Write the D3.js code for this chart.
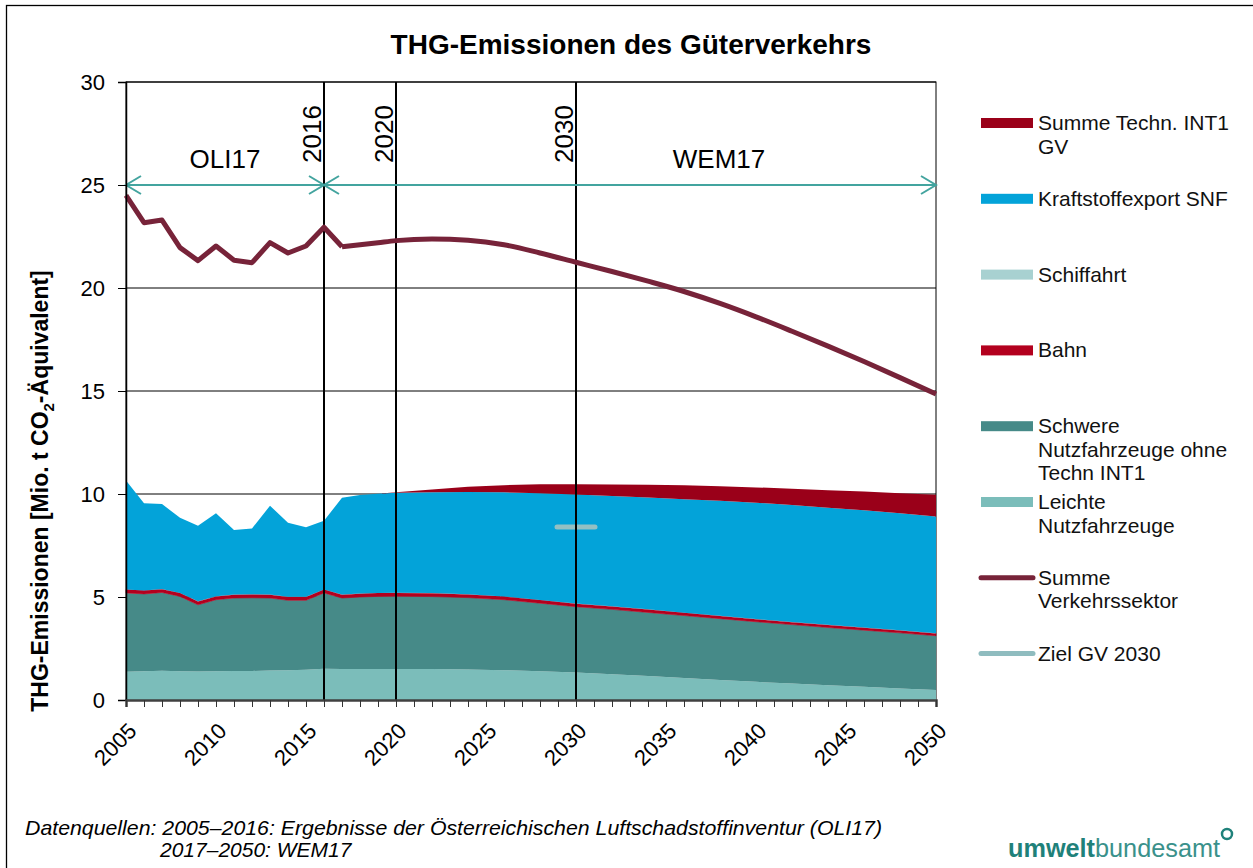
<!DOCTYPE html>
<html>
<head>
<meta charset="utf-8">
<script src="https://cdn.jsdelivr.net/npm/d3@7"></script>
<style>
  body{margin:0;background:#fff;font-family:Arial,"Liberation Sans",sans-serif;}
  svg text{font-family:Arial,"Liberation Sans",sans-serif;}
</style>
</head>
<body>
<main></main>
<script>
// data (Mio. t CO2-Äquivalent)
const years=[2005,2006,2007,2008,2009,2010,2011,2012,2013,2014,2015,2016,2017,2018,2019,2020,
             2022,2024,2026,2028,2030,2032,2034,2036,2038,2040,2042,2044,2046,2048,2050]
const leichte=[1.37,1.39,1.42,1.40,1.38,1.40,1.41,1.41,1.43,1.45,1.47,1.52,1.50,1.50,1.50,1.50,
               1.50,1.48,1.45,1.40,1.33,1.25,1.16,1.07,0.97,0.88,0.80,0.72,0.64,0.56,0.49]
const schwere=[3.83,3.76,3.80,3.63,3.24,3.47,3.54,3.55,3.52,3.39,3.37,3.68,3.45,3.50,3.53,3.54,
               3.52,3.49,3.42,3.30,3.20,3.15,3.09,3.03,2.98,2.92,2.86,2.80,2.75,2.70,2.63]
const bahn=[0.16,0.16,0.16,0.16,0.16,0.16,0.16,0.16,0.16,0.16,0.16,0.16,0.16,0.16,0.16,0.16,
            0.16,0.15,0.15,0.15,0.14,0.14,0.14,0.13,0.13,0.12,0.12,0.12,0.12,0.11,0.11]
const schiffahrt=[0.01,0.01,0.01,0.01,0.01,0.01,0.01,0.01,0.01,0.01,0.01,0.01,0.01,0.01,0.01,0.01,
                  0.01,0.01,0.01,0.01,0.01,0.01,0.01,0.01,0.01,0.01,0.01,0.01,0.01,0.01,0.01]
const kraftstoff=[5.28,4.23,4.12,3.65,3.67,4.02,3.13,3.20,4.31,3.60,3.37,3.33,4.70,4.78,4.81,4.85,
                  4.90,4.97,5.05,5.18,5.29,5.35,5.43,5.51,5.58,5.65,5.68,5.68,5.69,5.68,5.67]
const int1=[0,0,0,0,0,0,0,0,0,0,0,0,0,0,0,0.03,
            0.13,0.25,0.35,0.43,0.50,0.56,0.62,0.67,0.71,0.74,0.79,0.85,0.91,0.98,1.05]
const summeVerkehr=[24.5,23.17,23.3,21.96,21.33,22.04,21.35,21.23,22.2,21.7,22.04,22.95,22.0,22.1,22.2,22.3,
                    22.38,22.32,22.1,21.7,21.25,20.8,20.33,19.83,19.25,18.6,17.9,17.18,16.43,15.65,14.85]
const zielYear=2030
const zielValue=8.4
const yTicks=[0,5,10,15,20,25,30]
const xLabelYears=[2005,2010,2015,2020,2025,2030,2035,2040,2045,2050]
const markerYears=[2016,2020,2030]

const series=[
  {key:"leichte",name:["Leichte","Nutzfahrzeuge"],color:"#7bbdba",values:leichte},
  {key:"schwere",name:["Schwere","Nutzfahrzeuge ohne","Techn INT1"],color:"#468a88",values:schwere},
  {key:"bahn",name:["Bahn"],color:"#b3001e",values:bahn},
  {key:"schiffahrt",name:["Schiffahrt"],color:"#a8d1d1",values:schiffahrt},
  {key:"kraftstoff",name:["Kraftstoffexport SNF"],color:"#03a3d9",values:kraftstoff},
  {key:"int1",name:["Summe Techn. INT1","GV"],color:"#9a0019",values:int1}
]

const w=1253, h=868
const pLeft=126, pRight=936, pTop=82, pBottom=700

const svg=d3.select("main").append("svg").attr("width",w).attr("height",h)

// outer frame
svg.append("rect").attr("x",6.5).attr("y",5.5).attr("width",1400).attr("height",1000)
   .attr("fill","none").attr("stroke","#000").attr("stroke-width",1.3)

const x=d3.scaleLinear().domain([2005,2050]).range([pLeft,pRight])
const y=d3.scaleLinear().domain([0,30]).range([pBottom,pTop])

// title
svg.append("text").attr("x",631).attr("y",54).attr("text-anchor","middle")
   .attr("font-size",28).attr("font-weight","bold").text("THG-Emissionen des Güterverkehrs")

// plot frame + grid
svg.append("rect").attr("x",pLeft).attr("y",pTop).attr("width",pRight-pLeft).attr("height",pBottom-pTop)
   .attr("fill","none").attr("stroke","#000").attr("stroke-width",1)
svg.append("g").selectAll("line").data(yTicks.filter(d=>d>0)).enter().append("line")
   .attr("x1",pLeft).attr("x2",pRight).attr("y1",d=>y(d)).attr("y2",d=>y(d))
   .attr("stroke","#000").attr("stroke-width",1)

// stacked areas
const rows=years.map((yr,i)=>{
  const r={year:yr}
  series.forEach(s=>r[s.key]=s.values[i])
  return r
})
const stack=d3.stack().keys(series.map(s=>s.key))
const layers=stack(rows)
const area=d3.area().x(d=>x(d.data.year)).y0(d=>y(d[0])).y1(d=>y(d[1]))
svg.append("g").selectAll("path").data(layers).enter().append("path")
   .attr("d",area).attr("fill",(d,i)=>series[i].color)
   .attr("stroke",(d,i)=>series[i].key=="bahn"?series[i].color:"none").attr("stroke-width",0.6)

// ziel marker
svg.append("line").attr("x1",x(zielYear)-19).attr("x2",x(zielYear)+19)
   .attr("y1",y(zielValue)).attr("y2",y(zielValue))
   .attr("stroke","#93c0c3").attr("stroke-width",5).attr("stroke-linecap","round")

// vertical marker lines
svg.append("g").selectAll("line").data(markerYears).enter().append("line")
   .attr("x1",d=>x(d)).attr("x2",d=>x(d)).attr("y1",pTop).attr("y2",pBottom)
   .attr("stroke","#000").attr("stroke-width",2)
svg.append("g").selectAll("text").data(markerYears).enter().append("text")
   .attr("transform",d=>"translate("+(x(d)-3)+",134) rotate(-90)")
   .attr("text-anchor","middle").attr("font-size",26).text(d=>d)

// period arrows
const arrowColor="#43a49f"
const ay=y(25)
function arrow(a,b){
  const g=svg.append("g").attr("stroke",arrowColor).attr("stroke-width",2).attr("fill","none")
  g.append("line").attr("x1",x(a)).attr("x2",x(b)).attr("y1",ay).attr("y2",ay)
  g.append("path").attr("d","M"+(x(a)+15)+","+(ay-9)+"L"+x(a)+","+ay+"L"+(x(a)+15)+","+(ay+9))
  g.append("path").attr("d","M"+(x(b)-15)+","+(ay-9)+"L"+x(b)+","+ay+"L"+(x(b)-15)+","+(ay+9))
}
arrow(2005,2016)
arrow(2016,2050)
svg.append("text").attr("x",(x(2005)+x(2016))/2).attr("y",168).attr("text-anchor","middle")
   .attr("font-size",26).text("OLI17")
svg.append("text").attr("x",719).attr("y",168).attr("text-anchor","middle")
   .attr("font-size",26).text("WEM17")

// summe verkehrssektor line: inventory years straight, projection smooth
const pts=summeVerkehr.map((v,i)=>[years[i],v])
const cut=years.indexOf(2017)
const lineLin=d3.line().x(d=>x(d[0])).y(d=>y(d[1]))
const lineSmooth=d3.line().x(d=>x(d[0])).y(d=>y(d[1])).curve(d3.curveMonotoneX)
const vLine=svg.append("g").attr("fill","none").attr("stroke","#772339").attr("stroke-width",5)
   .attr("stroke-linejoin","round")
vLine.append("path").attr("d",lineLin(pts.slice(0,cut+1)))
vLine.append("path").attr("d",lineSmooth(pts.slice(cut)))

// axes
const yAxis=d3.axisLeft(y).tickValues(yTicks).tickSize(8).tickPadding(13)
const gy=svg.append("g").attr("transform","translate("+pLeft+",0)").call(yAxis)
gy.select(".domain").attr("stroke","#000").attr("stroke-width",1.5)
gy.selectAll("text").attr("font-size",22).attr("fill","#000")

const minor=d3.axisBottom(x).tickValues(d3.range(2005,2051)).tickSize(7).tickFormat("")
const gm=svg.append("g").attr("transform","translate(0,"+pBottom+")").call(minor)
gm.select(".domain").attr("stroke","#404040").attr("stroke-width",2.5)
gm.selectAll(".tick line").attr("stroke","#333")

const xAxis=d3.axisBottom(x).tickValues(xLabelYears).tickSize(0).tickFormat(d3.format("d"))
const gx=svg.append("g").attr("transform","translate(0,"+pBottom+")").call(xAxis)
gx.select(".domain").remove()
gx.selectAll("text").attr("font-size",22).attr("fill","#000")
  .attr("text-anchor","end").attr("x",0).attr("y",0).attr("dy","0.35em")
  .attr("transform","translate(6,27) rotate(-45)")

// y label
svg.append("text").attr("transform","translate(48,491) rotate(-90)").attr("text-anchor","middle")
   .attr("font-size",23).attr("font-weight","bold")
   .call(t=>{
     t.append("tspan").text("THG-Emissionen [Mio. t CO")
     t.append("tspan").attr("font-size",15).attr("dy",6).text("2")
     t.append("tspan").attr("dy",-6).text("-Äquivalent]")
   })

// legend
const legendItems=series.slice().reverse().map(s=>({name:s.name,color:s.color,type:"area"}))
legendItems.push({name:["Summe","Verkehrssektor"],color:"#772339",type:"line"})
legendItems.push({name:["Ziel GV 2030"],color:"#8fbcbf",type:"line"})
const lg=svg.append("g").selectAll("g").data(legendItems).enter().append("g")
   .attr("transform",(d,i)=>"translate(0,"+(123+i*75.8)+")")
lg.each(function(d){
  const g=d3.select(this)
  if(d.type=="area"){
    g.append("rect").attr("x",981).attr("y",-5).attr("width",52).attr("height",10).attr("fill",d.color)
  } else {
    g.append("line").attr("x1",981).attr("x2",1033).attr("y1",0).attr("y2",0)
     .attr("stroke",d.color).attr("stroke-width",5).attr("stroke-linecap","round")
  }
  g.selectAll("text").data(d.name).enter().append("text")
   .attr("x",1038).attr("y",(t,j)=>7+j*23.5).attr("font-size",21).attr("fill","#111").text(t=>t)
})

// footer
svg.append("text").attr("x",25).attr("y",835).attr("font-size",21).attr("font-style","italic")
   .attr("textLength",857).attr("lengthAdjust","spacingAndGlyphs")
   .text("Datenquellen: 2005–2016: Ergebnisse der Österreichischen Luftschadstoffinventur (OLI17)")
svg.append("text").attr("x",160).attr("y",857).attr("font-size",21).attr("font-style","italic")
   .text("2017–2050: WEM17")

// logo
const logo=svg.append("text").attr("x",1008).attr("y",857).attr("font-size",25).attr("fill","#1f817a")
   .attr("textLength",212).attr("lengthAdjust","spacingAndGlyphs")
logo.append("tspan").attr("font-weight","bold").text("umwelt")
logo.append("tspan").attr("fill","#3a918b").text("bundesamt")
svg.append("circle").attr("cx",1227).attr("cy",834).attr("r",5).attr("fill","none")
   .attr("stroke","#1f817a").attr("stroke-width",2.5)
</script>
</body>
</html>
